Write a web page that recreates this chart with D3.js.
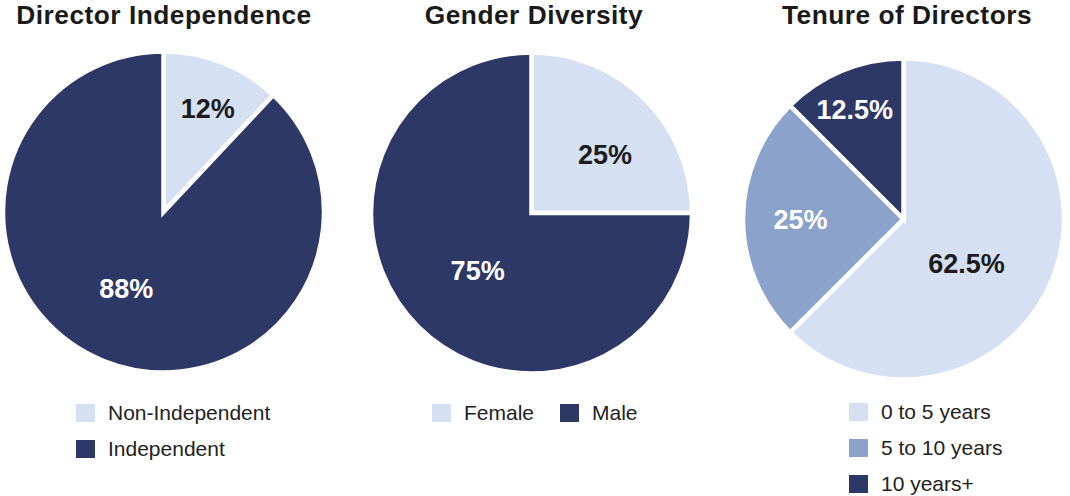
<!DOCTYPE html>
<html>
<head>
<meta charset="utf-8">
<script src="https://cdn.jsdelivr.net/npm/d3@7/dist/d3.min.js"></script>
<style>
  html, body { margin: 0; padding: 0; background: #fff; }
  svg { display: block; }
</style>
</head>
<body>
<svg id="chart" width="1070" height="496"></svg>
<script>
// ---- Data ----
const titles = ["Director Independence", "Gender Diversity", "Tenure of Directors"];

const independenceLabels = ["Non-Independent", "Independent"];
const independenceValues = [12, 88];

const genderLabels = ["Female", "Male"];
const genderValues = [25, 75];

const tenureLabels = ["0 to 5 years", "5 to 10 years", "10 years+"];
const tenureValues = [62.5, 25, 12.5];

const valueTexts = [["12%", "88%"], ["25%", "75%"], ["62.5%", "25%", "12.5%"]];

// ---- Styles / layout ----
const DARK = "#2d3867", LIGHT = "#d5e0f3", MID = "#8ba3cb";
const colorSets = [[LIGHT, DARK], [LIGHT, DARK], [LIGHT, MID, DARK]];
const labelColors = [["#1c1c1c", "#fff"], ["#1c1c1c", "#fff"], ["#1c1c1c", "#fff", "#fff"]];

const layout = [
  { cx: 163.5, cy: 212, r: 160.5, titleX: 164, legend: "vertical", lx: 76, ly: 404,
    labelPos: [[113, 23], [85, 206]] },
  { cx: 531.5, cy: 213, r: 160.5, titleX: 534, legend: "horizontal", lx: 432, ly: 404, lgap: 128,
    labelPos: [[94, 51.5], [79, 223]] },
  { cx: 903.5, cy: 219, r: 160.5, titleX: 907, legend: "vertical", lx: 849, ly: 403,
    labelPos: [[77, 125], [103, 270], [120, 336]] }
];

const datasets = [
  { labels: independenceLabels, values: independenceValues },
  { labels: genderLabels, values: genderValues },
  { labels: tenureLabels, values: tenureValues }
];

const svg = d3.select("#chart");
const FONT = "'Liberation Sans', Arial, Helvetica, sans-serif";

datasets.forEach((ds, i) => {
  const L = layout[i];
  const color = d3.scaleOrdinal().domain(ds.labels).range(colorSets[i]);

  // Title
  svg.append("text")
    .attr("x", L.titleX).attr("y", 24)
    .attr("text-anchor", "middle")
    .attr("font-family", FONT)
    .attr("font-weight", "bold")
    .attr("font-size", 26.3)
    .attr("letter-spacing", 0.5)
    .attr("fill", "#1a1a1a")
    .text(titles[i]);

  const pie = d3.pie().sort(null).value(d => d.value);
  const arcs = pie(ds.labels.map((l, k) => ({ label: l, value: ds.values[k], k })));
  const arc = d3.arc().innerRadius(0).outerRadius(L.r);

  const g = svg.append("g").attr("transform", `translate(${L.cx},${L.cy})`);
  g.selectAll("path.slice").data(arcs).enter().append("path")
    .attr("class", "slice")
    .attr("d", arc)
    .attr("fill", d => color(d.data.label))
    .attr("stroke", "#fff")
    .attr("stroke-width", 4.5)
    .attr("stroke-linejoin", "miter");

  g.selectAll("text.val").data(arcs).enter().append("text")
    .attr("class", "val")
    .attr("x", d => { const p = L.labelPos[d.data.k]; return p[0] * Math.sin(p[1] * Math.PI / 180); })
    .attr("y", d => { const p = L.labelPos[d.data.k]; return -p[0] * Math.cos(p[1] * Math.PI / 180); })
    .attr("dy", "0.36em")
    .attr("text-anchor", "middle")
    .attr("font-family", FONT)
    .attr("font-weight", "bold")
    .attr("font-size", 27)
    .attr("fill", d => labelColors[i][d.data.k])
    .text(d => valueTexts[i][d.data.k]);

  // Legend
  const lg = svg.append("g");
  ds.labels.forEach((lab, k) => {
    const x = L.legend === "horizontal" ? L.lx + k * L.lgap : L.lx;
    const y = L.legend === "horizontal" ? L.ly : L.ly + k * 36;
    lg.append("rect")
      .attr("x", x).attr("y", y).attr("width", 19).attr("height", 18)
      .attr("fill", color(lab));
    lg.append("text")
      .attr("x", x + 32).attr("y", y + 16)
      .attr("font-family", FONT)
      .attr("font-size", 21)
      .attr("fill", "#222")
      .text(lab);
  });
});
</script>
</body>
</html>
